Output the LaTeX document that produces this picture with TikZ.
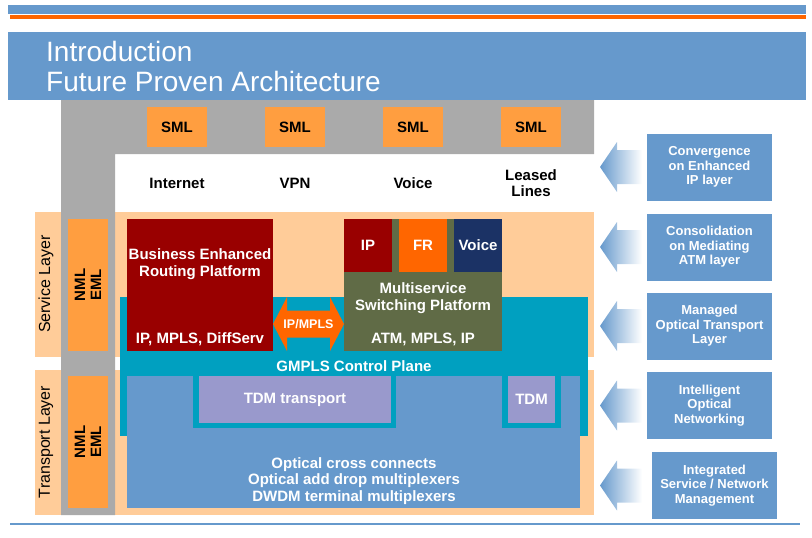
\documentclass[tikz,border=0pt]{standalone}
\usepackage{fontspec}
\setmainfont{Liberation Sans}
\usetikzlibrary{calc}

\definecolor{slideblue}{HTML}{6699CC}
\definecolor{hdorange}{HTML}{FF6600}
\definecolor{smlorange}{HTML}{FF9E40}
\definecolor{peach}{HTML}{FFCC99}
\definecolor{mgrey}{HTML}{AAAAAA}
\definecolor{gmplsteal}{HTML}{00A0C0}
\definecolor{berpred}{HTML}{990000}
\definecolor{mspgreen}{HTML}{606B46}
\definecolor{navy}{HTML}{1B3265}
\definecolor{lavender}{HTML}{9999CC}

\tikzset{
  rect/.style 2 args={minimum width=#1, minimum height=#2, inner sep=0pt, outer sep=0pt},
  title/.style={inner sep=0pt, text=white, font=\fontsize{28}{30}\selectfont},
  sml/.style={rect={60pt}{40pt}, fill=smlorange, font=\bfseries\fontsize{15}{17}\selectfont},
  svc/.style={align=center, font=\bfseries\fontsize{15}{16}\selectfont},
  layer/.style={rotate=90, font=\fontsize{16}{18}\selectfont},
  mgmt/.style={rect={132pt}{40pt}, rotate=90, fill=smlorange, align=center,
    font=\bfseries\fontsize{15}{16}\selectfont},
  wtxt/.style={text=white, align=center, font=\bfseries\fontsize{15}{16.5}\selectfont},
  rbox/.style={rect={125pt}{67pt}, fill=slideblue, text=white, align=center,
    font=\bfseries\fontsize{13}{14.5}\selectfont}
}

\begin{document}
\begin{tikzpicture}[x=1pt,y=-1pt]
\useasboundingbox (0,0) rectangle (812,538);

% header
\node[rect={798pt}{9pt}, fill=slideblue] (topbar) at (407,9.5) {};
\node[rect={796pt}{4pt}, fill=hdorange] (orangebar) at (408,17) {};
\node[rect={798pt}{68pt}, fill=slideblue] (titlebox) at (407,66) {};
\node[title, anchor=base west] (title1) at (46,61) {Introduction};
\node[title, anchor=base west] (title2) at (46,91) {Future Proven Architecture};

% layer bands and management frame
\fill[peach] (35,212) rectangle (594,357);
\fill[peach] (35,370) rectangle (594,515);
\fill[mgrey] (61,100) -- (594,100) -- (594,154) -- (115,154) -- (115,515) -- (61,515) -- cycle;

\foreach \cx/\nm/\lbl in {177/inet/Internet, 295/vpn/VPN, 413/voice/Voice, 531/lines/Leased\\Lines}
{
  \node[sml] (sml\nm) at (\cx,127) {SML};
  \node[svc] (\nm) at (\cx,183) {\lbl};
}

\node[layer] (svclayer) at (46,284) {Service Layer};
\node[layer] (trplayer) at (46,442) {Transport Layer};
\node[mgmt] (nmlsvc) at (88,285) {NML\\EML};
\node[mgmt] (nmltrp) at (88,442) {NML\\EML};

% control plane
\node[rect={468pt}{139pt}, fill=gmplsteal] (gmpls) at (354,366.5) {};
\node[wtxt] (gmplslbl) at (354,366) {GMPLS Control Plane};

% routing platform
\node[rect={146pt}{132pt}, fill=berpred] (berp) at (200,285) {};
\node[wtxt] (berptop) at (200,264) {Business Enhanced\\Routing Platform};
\node[wtxt] (berpbot) at (200,339) {IP, MPLS, DiffServ};

% switching platform
\node[rect={158pt}{132pt}, fill=mspgreen] (msp) at (423,285) {};
\node[rect={48pt}{53pt}, fill=berpred, wtxt] (mspip) at (368,245.5) {IP};
\node[rect={48pt}{53pt}, fill=hdorange, wtxt] (mspfr) at (423,245.5) {FR};
\node[rect={48pt}{53pt}, fill=navy, wtxt] (mspvoice) at (478,245.5) {Voice};
\node[wtxt] (msptop) at (423,298) {Multiservice\\Switching Platform};
\node[wtxt] (mspbot) at (423,339) {ATM, MPLS, IP};

% IP/MPLS link
\fill[hdorange] ($(berp.east)+(0,39)$) -- ++(14,-27) -- ++(0,13.5) -- ++(43,0) -- ++(0,-13.5)
  -- ($(msp.west)+(0,39)$) -- ++(-14,27) -- ++(0,-13.5) -- ++(-43,0) -- ++(0,13.5) -- cycle;
\node[text=white, font=\bfseries\fontsize{12.5}{14}\selectfont] (ipmpls)
  at ($(berp.east)!0.5!(msp.west)+(0,39)$) {IP/MPLS};

% optical transport
\node[rect={453pt}{132pt}, fill=slideblue] (optical) at (353.5,442) {};
\node[rect={203pt}{52pt}, fill=gmplsteal] (tdmframe) at (294.5,402) {};
\node[rect={59pt}{52pt}, fill=gmplsteal] (tdmsframe) at (531.5,402) {};
\node[rect={192pt}{47pt}, fill=lavender, wtxt] (tdm) at (295,399.5) {TDM transport};
\node[rect={47pt}{47pt}, fill=lavender, wtxt] (tdms) at (531.5,399.5) {TDM};
\node[wtxt] (opttxt) at (354,481) {Optical cross connects\\Optical add drop multiplexers\\DWDM terminal multiplexers};

% evolution steps
\foreach \cx/\cy/\nm/\lbl in {709.5/167/conv/{Convergence\\on Enhanced\\IP layer},
  709.5/247/cons/{Consolidation\\on Mediating\\ATM layer},
  709.5/326/mgd/{Managed\\Optical Transport\\Layer},
  709.5/405.5/intl/{Intelligent\\Optical\\Networking},
  714.5/485.5/intg/{Integrated\\Service / Network\\Management}}
{
  \node[rbox] (\nm) at (\cx,\cy) {\lbl};
}
\coordinate (tipref) at (600,0);
\foreach \b in {conv,cons,mgd,intl,intg}
{
  \shade[left color=slideblue, middle color=slideblue!55, right color=white] (\b.west -| tipref)
    -- ++(17,-25) -- ++(0,8) -- ++(25,0) -- ++(0,34) -- ++(-25,0) -- ++(0,8) -- cycle;
}

\draw[slideblue, line width=1.2pt] (10,524) -- (800,524);
\end{tikzpicture}
\end{document}
